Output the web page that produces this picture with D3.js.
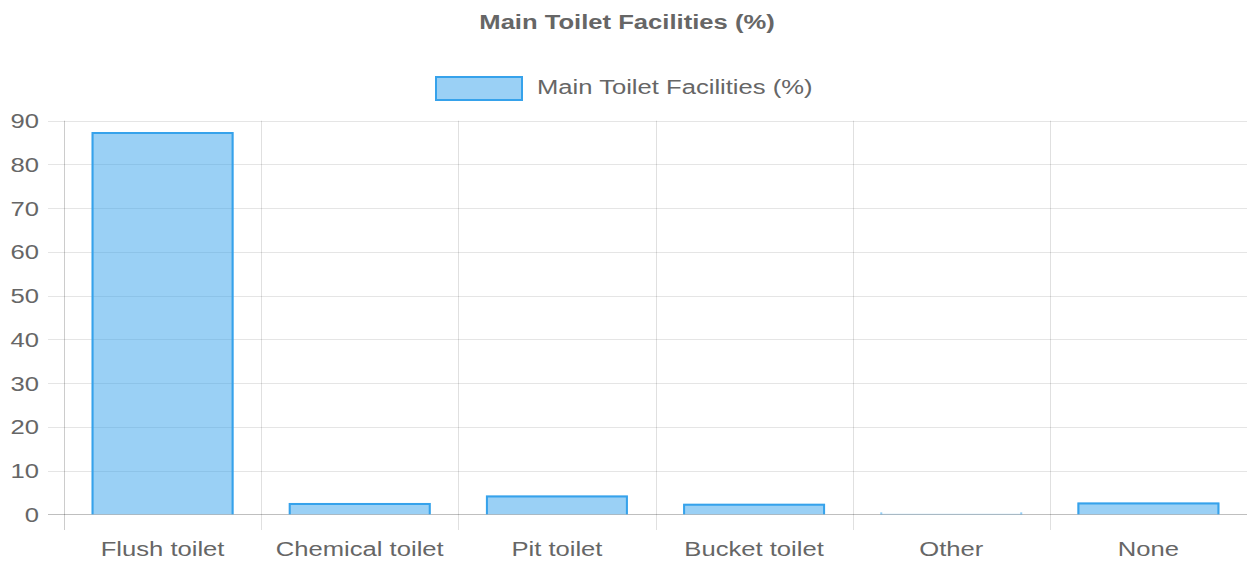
<!DOCTYPE html>
<html>
<head>
<meta charset="utf-8">
<script src="https://cdn.jsdelivr.net/npm/d3@7"></script>
<style>
  html, body { margin: 0; padding: 0; background: #fff; }
  svg { display: block; }
  text { font-family: "Liberation Sans", Arial, Helvetica, sans-serif; fill: #666; }
</style>
</head>
<body>
<svg id="chart" width="1247" height="562"></svg>
<script>
const chartTitle = "Main Toilet Facilities (%)";
const seriesName = "Main Toilet Facilities (%)";
const categories = ["Flush toilet", "Chemical toilet", "Pit toilet", "Bucket toilet", "Other", "None"];
const values = [87.4, 2.6, 4.3, 2.4, 0.1, 2.7];
const yTicks = [0, 10, 20, 30, 40, 50, 60, 70, 80, 90];

const W = 1247, H = 562;
const margin = { left: 64, right: 0, top: 120.7, bottom: 562 - 514.3 };
const fontSize = 21, sx = 1.22;
const fillColor = "rgba(54,162,235,0.5)";
const strokeColor = "rgb(54,162,235)";

const svg = d3.select("#chart");

const x = d3.scaleBand().domain(categories).range([margin.left, W - margin.right]).paddingInner(0).paddingOuter(0);
const y = d3.scaleLinear().domain([0, 90]).range([H - margin.bottom, margin.top]);

function stretchedText(g, tx, ty, str, anchor, weight) {
  return g.append("text")
    .attr("transform", `translate(${tx},${ty}) scale(${sx},1)`)
    .attr("text-anchor", anchor)
    .attr("font-size", fontSize)
    .attr("font-weight", weight || "normal")
    .text(str);
}

// Title
stretchedText(svg, 627, 29, chartTitle, "middle", "bold");

// Legend
svg.append("rect").attr("x", 436).attr("y", 77).attr("width", 86).attr("height", 23)
  .attr("fill", fillColor).attr("stroke", strokeColor).attr("stroke-width", 2);
stretchedText(svg, 537, 94, seriesName, "start");

// Horizontal grid lines (with left tick extension)
const grid = svg.append("g");
yTicks.forEach(t => {
  grid.append("line")
    .attr("x1", 48).attr("x2", W)
    .attr("y1", Math.round(y(t)) + 0.5).attr("y2", Math.round(y(t)) + 0.5)
    .attr("stroke", t === 0 ? "rgba(0,0,0,0.25)" : "rgba(0,0,0,0.1)")
    .attr("stroke-width", 1);
});

// Vertical grid lines (category boundaries) extending below axis
const bounds = categories.map(c => x(c)).concat([W - margin.right]);
bounds.forEach((b, i) => {
  grid.append("line")
    .attr("x1", Math.round(b) + 0.5).attr("x2", Math.round(b) + 0.5)
    .attr("y1", margin.top).attr("y2", 530)
    .attr("stroke", i === 0 ? "rgba(0,0,0,0.2)" : "rgba(0,0,0,0.12)")
    .attr("stroke-width", 1);
});

// Y tick labels
const yl = svg.append("g");
yTicks.forEach(t => {
  stretchedText(yl, 39, y(t) + 7.5, String(t), "end");
});

// Bars (border skipped at the bottom, Chart.js style)
const bw = x.bandwidth() * 0.72;
const bars = svg.append("g");
values.forEach((d, i) => {
  const x0 = x(categories[i]) + (x.bandwidth() - bw) / 2;
  const x1 = x0 + bw;
  const yTop = y(d), yBot = y(0);
  const h = yBot - yTop;
  bars.append("rect").attr("x", x0).attr("y", yTop).attr("width", bw).attr("height", h)
    .attr("fill", fillColor);
  if (h >= 2) {
    bars.append("path")
      .attr("d", `M${x0 + 1},${yBot} V${yTop + 1} H${x1 - 1} V${yBot}`)
      .attr("fill", "none").attr("stroke", strokeColor).attr("stroke-width", 2);
  } else {
    [x0 + 1, x1 - 1].forEach(sxp => {
      bars.append("line").attr("x1", sxp).attr("x2", sxp)
        .attr("y1", yBot - 2).attr("y2", yBot)
        .attr("stroke", strokeColor).attr("stroke-width", 2).attr("stroke-opacity", 0.5);
    });
  }
});

// X labels
const xl = svg.append("g");
categories.forEach(c => {
  stretchedText(xl, x(c) + x.bandwidth() / 2, 556, c, "middle");
});
</script>
</body>
</html>
